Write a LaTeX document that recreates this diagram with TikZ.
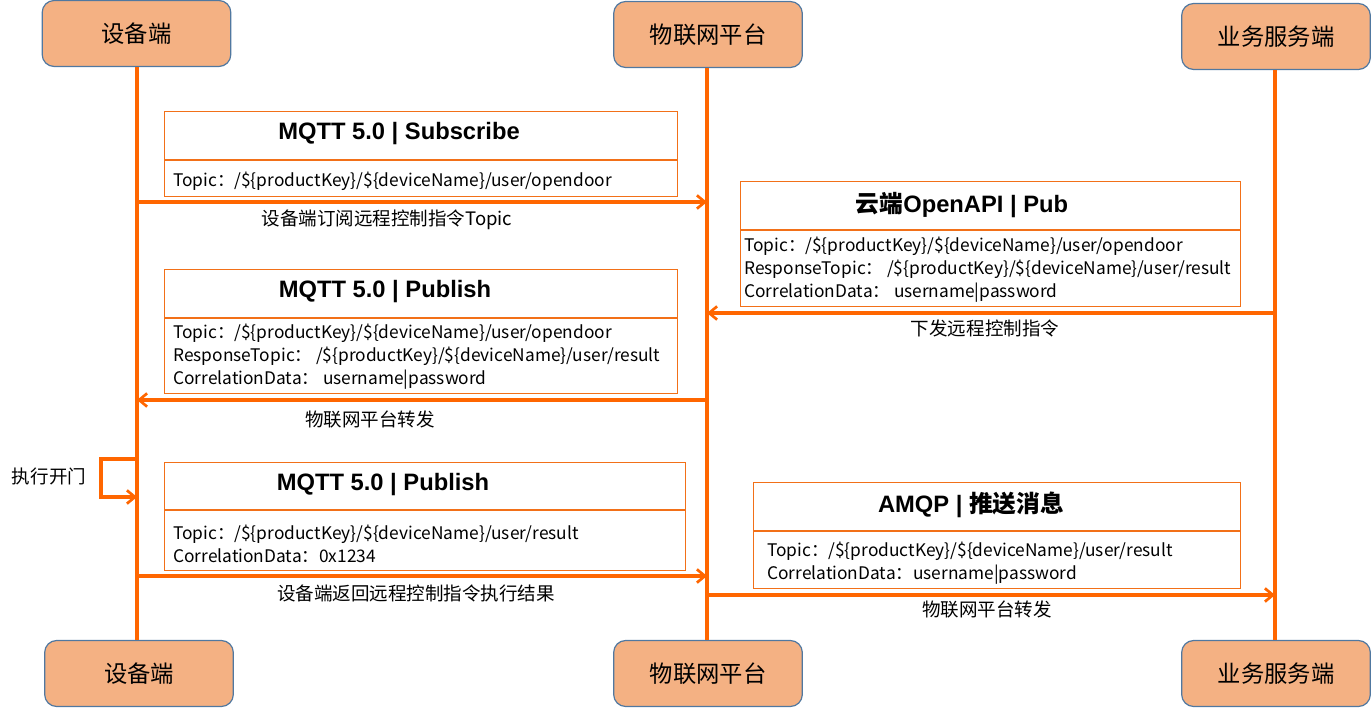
\documentclass[tikz,border=0pt]{standalone}
\usepackage{fontspec}
\setmainfont{Noto Sans CJK SC}
\newfontfamily\hdfont{Liberation Sans}
\usetikzlibrary{arrows.meta}
\definecolor{ln}{RGB}{255,102,0}
\definecolor{bx}{RGB}{242,112,24}
\definecolor{actfill}{RGB}{244,177,131}
\definecolor{actdraw}{RGB}{80,120,160}
\begin{document}
\begin{tikzpicture}[x=0.75pt,y=-0.75pt,
  actor/.style={draw=actdraw,fill=actfill,rounded corners=9pt,line width=0.9pt,
    minimum width=141.5pt,minimum height=49.5pt,inner sep=0pt,
    font=\fontsize{17.5}{20}\selectfont},
  life/.style={ln,line width=2.3pt},
  msg/.style={ln,line width=2.3pt,-{Straight Barb[length=6pt,width=10pt,line width=2pt]}},
  mbox/.style={draw=bx,line width=0.8pt,anchor=north west,inner sep=0pt},
  divl/.style={draw=bx,line width=0.8pt},
  head/.style={font=\fontsize{17.8}{20}\selectfont\bfseries,inner sep=0pt},
  body/.style={font=\fontsize{13}{17.2}\selectfont,anchor=west,inner sep=0pt,align=left},
  lbl/.style={font=\fontsize{13.9}{16}\selectfont,inner sep=0pt}]
\useasboundingbox (0,0) rectangle (1372,709);

% actors
\node[actor] (devT) at (136.5,33.5) {设备端};
\node[actor] (iotT) at (708,34.5) {物联网平台};
\node[actor] (bizT) at (1276,36.5) {业务服务端};
\node[actor] (devB) at (139,673.5) {设备端};
\node[actor] (iotB) at (708,673.5) {物联网平台};
\node[actor] (bizB) at (1276,673.5) {业务服务端};

% lifelines
\draw[life] (devT.south -| 137,0) -- (devB.north -| 137,0);
\draw[life] (iotT.south -| 707,0) -- (iotB.north -| 707,0);
\draw[life] (bizT.south -| 1275,0) -- (bizB.north -| 1275,0);

% box 1
\node[mbox,minimum width=384.75pt,minimum height=63.75pt] (b1) at (164,111) {};
\draw[divl] (164,160) -- (677,160);
\node[head] (b1h) at (399,134) {\hdfont MQTT 5.0 | Subscribe};
\node[body] (b1t) at (173,181) {Topic：/\$\{productKey\}/\$\{deviceName\}/user/opendoor};

% box 2
\node[mbox,minimum width=375pt,minimum height=93.75pt] (b2) at (740,181) {};
\draw[divl] (740,230) -- (1240,230);
\node[head] (b2h) at (962,205) {云端{\hdfont OpenAPI | Pub}};
\node[body] (b2t) at (744,270) {Topic：/\$\{productKey\}/\$\{deviceName\}/user/opendoor\\ResponseTopic：\ /\$\{productKey\}/\$\{deviceName\}/user/result\\CorrelationData：\ username|password};

% box 3
\node[mbox,minimum width=384.75pt,minimum height=93pt] (b3) at (164,269) {};
\draw[divl] (164,318) -- (677,318);
\node[head] (b3h) at (385,292) {\hdfont MQTT 5.0 | Publish};
\node[body] (b3t) at (173,357) {Topic：/\$\{productKey\}/\$\{deviceName\}/user/opendoor\\ResponseTopic：\ /\$\{productKey\}/\$\{deviceName\}/user/result\\CorrelationData：\ username|password};

% box 4
\node[mbox,minimum width=390.75pt,minimum height=81pt] (b4) at (164,462) {};
\draw[divl] (164,510) -- (685,510);
\node[head] (b4h) at (383,485) {\hdfont MQTT 5.0 | Publish};
\node[body] (b4t) at (173,544) {Topic：/\$\{productKey\}/\$\{deviceName\}/user/result\\CorrelationData：0x1234};

% box 5
\node[mbox,minimum width=365.25pt,minimum height=79.5pt] (b5) at (753,482) {};
\draw[divl] (753,531) -- (1240,531);
\node[head] (b5h) at (971,505) {{\hdfont AMQP | }推送消息};
\node[body] (b5t) at (767,563) {Topic：/\$\{productKey\}/\$\{deviceName\}/user/result\\CorrelationData：username|password};

% message coordinates
\coordinate (m1a) at (137,202);  \coordinate (m1b) at (707,202);
\coordinate (m2a) at (1275,313); \coordinate (m2b) at (707,313);
\coordinate (m3a) at (707,400);  \coordinate (m3b) at (137,400);
\coordinate (s1a) at (137,459);  \coordinate (s1b) at (137,497);
\coordinate (m4a) at (137,576);  \coordinate (m4b) at (707,576);
\coordinate (m5a) at (707,595);  \coordinate (m5b) at (1275,595);

\draw[msg] (m1a) -- (m1b);
\draw[msg] (m2a) -- (m2b);
\draw[msg] (m3a) -- (m3b);
\draw[msg] (s1a) -- ++(-36,0) |- (s1b);
\draw[msg] (m4a) -- (m4b);
\draw[msg] (m5a) -- (m5b);

% labels
\node[lbl] (l1) at (387,220) {设备端订阅远程控制指令Topic};
\node[lbl] (l2) at (985,328) {下发远程控制指令};
\node[lbl] (l3) at (370,419) {物联网平台转发};
\node[lbl] (l4) at (49,476) {执行开门};
\node[lbl] (l5) at (416,593) {设备端返回远程控制指令执行结果};
\node[lbl] (l6) at (987,609) {物联网平台转发};
\end{tikzpicture}
\end{document}
